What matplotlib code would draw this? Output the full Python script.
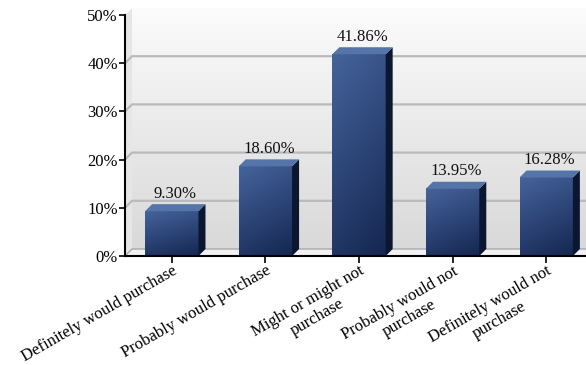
import matplotlib.pyplot as plt
import numpy as np
from matplotlib.patches import Polygon

categories = ["Definitely would purchase", "Probably would purchase",
              "Might or might not\npurchase", "Probably would not\npurchase",
              "Definitely would not\npurchase"]
shares = [9.30, 18.60, 41.86, 13.95, 16.28]
y_ticks = [0, 10, 20, 30, 40, 50]

plt.rcParams['font.family'] = ['Liberation Serif', 'DejaVu Serif']

fig = plt.figure(figsize=(5.86, 3.65), dpi=100)
ax = fig.add_axes([125/586, 109/365, 468/586, 241/365])
ax.set_facecolor('none')

xl, xr = -0.5, 4.5
ytop = 50
dx = 7/93.6      # depth offset, x
dy = 7/4.82      # depth offset, y
w = 0.57

# back wall with vertical gray gradient
wall = np.linspace(0.85, 0.985, 256).reshape(-1, 1)
wall = np.dstack([wall, wall, wall])
ax.imshow(wall, extent=[xl+dx, xr+dx, dy, ytop+dy], origin='lower',
          aspect='auto', zorder=0, clip_on=False)
ax.add_patch(Polygon([(xl, 0), (xl+dx, dy), (xl+dx, ytop+dy), (xl, ytop)],
                     closed=True, fc='#e6e6e6', ec='none', zorder=0, clip_on=False))
# floor
ax.add_patch(Polygon([(xl, 0), (xr, 0), (xr+dx, dy), (xl+dx, dy)],
                     closed=True, fc='#f2f2f2', ec='#a8a8a8', lw=1, zorder=1, clip_on=False))

# grid lines on the wall
for t in y_ticks[1:-1]:
    ax.plot([xl, xl+dx, xr+dx], [t, t+dy, t+dy], color='#bababa', lw=1.6,
            zorder=1, clip_on=False)

# bars
ny, nx = 200, 60
vert = np.linspace(0, 1, ny).reshape(-1, 1)
horz = np.linspace(0, 1, nx).reshape(1, -1)
shade = 0.75*vert + 0.25*(1 - horz)
dark = np.array([0.08, 0.15, 0.32])
light = np.array([0.27, 0.39, 0.61])
face = dark + shade[..., None]*(light - dark)

for i, v in enumerate(shares):
    x0, x1 = i - w/2, i + w/2
    ax.imshow(face, extent=[x0, x1, 0, v], origin='lower', aspect='auto',
              zorder=3, clip_on=False)
    ax.add_patch(Polygon([(x1, 0), (x1+dx, dy), (x1+dx, v+dy), (x1, v)],
                         closed=True, fc='#0b1730', ec='none', zorder=3, clip_on=False))
    ax.add_patch(Polygon([(x0, v), (x1, v), (x1+dx, v+dy), (x0+dx, v+dy)],
                         closed=True, fc='#5574a8', ec='none', zorder=3, clip_on=False))
    ax.text(i + dx/2, v + dy + 0.5, f"{v:.2f}%", ha='center', va='bottom',
            fontsize=12, color='#111111', zorder=4)

ax.set_xlim(xl, xr)
ax.set_ylim(0, ytop)

ax.set_yticks(y_ticks)
ax.set_yticklabels([f"{t}%" for t in y_ticks], fontsize=12)
ax.set_xticks(range(len(categories)))
ax.set_xticklabels(categories, fontsize=12, rotation=30, ha='right',
                   rotation_mode='anchor', multialignment='center')
ax.tick_params(axis='y', length=4, width=1.2, pad=1, direction='out')
ax.tick_params(axis='x', length=5, width=1.2, pad=0, direction='out')

for side in ['top', 'right']:
    ax.spines[side].set_visible(False)
for side in ['left', 'bottom']:
    ax.spines[side].set_linewidth(1.5)
    ax.spines[side].set_zorder(5)

fig.savefig('out.png', dpi=100)
